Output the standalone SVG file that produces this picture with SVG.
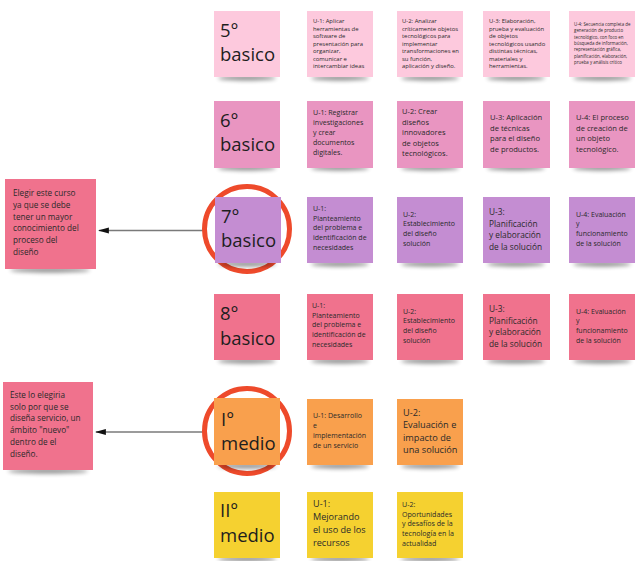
<svg xmlns="http://www.w3.org/2000/svg" width="637" height="561" viewBox="0 0 637 561">
<style>
.bg{fill:#ffffff}
.sh{fill:#000;opacity:.45;filter:url(#blur)}
.n5{fill:#fdc9dd}
.n6{fill:#e995c1}
.n7{fill:#c48dd2}
.n8{fill:#f0728d}
.nI{fill:#f9a04d}
.nII{fill:#f5d130}
.lbl{font-family:"Open Sans","Noto Sans",sans-serif;font-size:18.5px;fill:#1e1e1e}
.t{font-family:"Open Sans","Noto Sans",sans-serif;fill:#2a2a2a}
.ring{fill:none;stroke:#ee4a2b;stroke-width:5}
.conn{stroke:#7a7a7a;stroke-width:1.5;fill:none}
</style>
<defs>
<filter id="blur" x="-20%" y="-200%" width="140%" height="500%"><feGaussianBlur stdDeviation="2"/></filter>
<marker id="ah" viewBox="0 0 10 10" refX="9" refY="5" markerWidth="11" markerHeight="11" markerUnits="userSpaceOnUse" orient="auto"><path d="M0,2.2 L10,5 L0,7.8 Z" fill="#111"/></marker>
</defs>
<rect class="bg" x="0" y="0" width="637" height="561"/>

<g id="connectors">
<line class="conn" x1="203" y1="230.5" x2="99" y2="230.5" marker-end="url(#ah)"/>
<line class="conn" x1="203" y1="432" x2="96" y2="432" marker-end="url(#ah)"/>
</g>

<g id="highlight-7">
<circle class="ring" cx="247" cy="229" r="42.5"/>
</g>
<g id="highlight-I">
<circle class="ring" cx="247" cy="431" r="42.5"/>
</g>

<!-- Row 1 -->
<g id="n-5basico"><ellipse class="sh" cx="247" cy="78" rx="29" ry="2.5"/><rect class="n5" x="214" y="11" width="66" height="66"/><text class="lbl" x="220" y="37"><tspan x="220">5°</tspan><tspan x="220" dy="24">basico</tspan></text></g>
<g id="n-5-u1"><ellipse class="sh" cx="340" cy="78" rx="29" ry="2.5"/><rect class="n5" x="307" y="11" width="66" height="66"/><text class="t" font-size="5.9" x="313" y="23"><tspan x="313">U-1: Aplicar</tspan><tspan x="313" dy="7.5">herramientas de</tspan><tspan x="313" dy="7.5">software de</tspan><tspan x="313" dy="7.5">presentación para</tspan><tspan x="313" dy="7.5">organizar,</tspan><tspan x="313" dy="7.5">comunicar e</tspan><tspan x="313" dy="7.5">intercambiar ideas</tspan></text></g>
<g id="n-5-u2"><ellipse class="sh" cx="430" cy="78" rx="29" ry="2.5"/><rect class="n5" x="397" y="11" width="66" height="66"/><text class="t" font-size="5.9" x="402" y="23"><tspan x="402">U-2: Analizar</tspan><tspan x="402" dy="7.5">críticamente objetos</tspan><tspan x="402" dy="7.5">tecnológicos para</tspan><tspan x="402" dy="7.5">implementar</tspan><tspan x="402" dy="7.5">transformaciones en</tspan><tspan x="402" dy="7.5">su función,</tspan><tspan x="402" dy="7.5">aplicación y diseño.</tspan></text></g>
<g id="n-5-u3"><ellipse class="sh" cx="516" cy="78" rx="29" ry="2.5"/><rect class="n5" x="483" y="11" width="67" height="66"/><text class="t" font-size="5.9" x="489" y="23"><tspan x="489">U-3: Elaboración,</tspan><tspan x="489" dy="7.5">prueba y evaluación</tspan><tspan x="489" dy="7.5">de objetos</tspan><tspan x="489" dy="7.5">tecnológicos usando</tspan><tspan x="489" dy="7.5">distintas técnicas,</tspan><tspan x="489" dy="7.5">materiales y</tspan><tspan x="489" dy="7.5">herramientas.</tspan></text></g>
<g id="n-5-u4"><ellipse class="sh" cx="602" cy="78" rx="29" ry="2.5"/><rect class="n5" x="569" y="11" width="66" height="66"/><text class="t" font-size="4.4" x="574" y="26"><tspan x="574">U-4: Secuencia completa de</tspan><tspan x="574" dy="6.3">generación de producto</tspan><tspan x="574" dy="6.3">tecnológico, con foco en</tspan><tspan x="574" dy="6.3">búsqueda de información,</tspan><tspan x="574" dy="6.3">representación gráfica,</tspan><tspan x="574" dy="6.3">planificación, elaboración,</tspan><tspan x="574" dy="6.3">prueba y análisis crítico</tspan></text></g>

<!-- Row 2 -->
<g id="n-6basico"><ellipse class="sh" cx="247" cy="168" rx="29" ry="2.5"/><rect class="n6" x="214" y="101" width="66" height="67"/><text class="lbl" x="220" y="127"><tspan x="220">6°</tspan><tspan x="220" dy="24">basico</tspan></text></g>
<g id="n-6-u1"><ellipse class="sh" cx="340" cy="168" rx="29" ry="2.5"/><rect class="n6" x="307" y="101" width="66" height="67"/><text class="t" font-size="7.1" x="313" y="115"><tspan x="313">U-1: Registrar</tspan><tspan x="313" dy="10">investigaciones</tspan><tspan x="313" dy="10">y crear</tspan><tspan x="313" dy="10">documentos</tspan><tspan x="313" dy="10">digitales.</tspan></text></g>
<g id="n-6-u2"><ellipse class="sh" cx="430" cy="168" rx="29" ry="2.5"/><rect class="n6" x="397" y="101" width="66" height="67"/><text class="t" font-size="7.5" x="402" y="114"><tspan x="402">U-2: Crear</tspan><tspan x="402" dy="10.5">diseños</tspan><tspan x="402" dy="10.5">innovadores</tspan><tspan x="402" dy="10.5">de objetos</tspan><tspan x="402" dy="10.5">tecnológicos.</tspan></text></g>
<g id="n-6-u3"><ellipse class="sh" cx="516" cy="168" rx="29" ry="2.5"/><rect class="n6" x="483" y="101" width="67" height="67"/><text class="t" font-size="7.6" x="490" y="120"><tspan x="490">U-3: Aplicación</tspan><tspan x="490" dy="10.5">de técnicas</tspan><tspan x="490" dy="10.5">para el diseño</tspan><tspan x="490" dy="10.5">de productos.</tspan></text></g>
<g id="n-6-u4"><ellipse class="sh" cx="602" cy="168" rx="29" ry="2.5"/><rect class="n6" x="569" y="101" width="66" height="67"/><text class="t" font-size="7.6" x="576" y="120"><tspan x="576">U-4: El proceso</tspan><tspan x="576" dy="10.5">de creación de</tspan><tspan x="576" dy="10.5">un objeto</tspan><tspan x="576" dy="10.5">tecnológico.</tspan></text></g>

<!-- Row 3 -->
<g id="n-7basico"><ellipse class="sh" cx="247" cy="264" rx="29" ry="2.5"/><rect class="n7" x="215" y="197" width="66" height="66"/><text class="lbl" x="221" y="223"><tspan x="221">7°</tspan><tspan x="221" dy="24">basico</tspan></text></g>
<g id="n-7-u1"><ellipse class="sh" cx="340" cy="264" rx="29" ry="2.5"/><rect class="n7" x="307" y="197" width="66" height="66"/><text class="t" font-size="7" x="313" y="211"><tspan x="313">U-1:</tspan><tspan x="313" dy="9.7">Planteamiento</tspan><tspan x="313" dy="9.7">del problema e</tspan><tspan x="313" dy="9.7">identificación de</tspan><tspan x="313" dy="9.7">necesidades</tspan></text></g>
<g id="n-7-u2"><ellipse class="sh" cx="430" cy="264" rx="29" ry="2.5"/><rect class="n7" x="397" y="197" width="66" height="66"/><text class="t" font-size="7" x="403" y="216.5"><tspan x="403">U-2:</tspan><tspan x="403" dy="9.7">Establecimiento</tspan><tspan x="403" dy="9.7">del diseño</tspan><tspan x="403" dy="9.7">solución</tspan></text></g>
<g id="n-7-u3"><ellipse class="sh" cx="516" cy="264" rx="29" ry="2.5"/><rect class="n7" x="483" y="197" width="67" height="66"/><text class="t" font-size="8.3" x="489" y="215"><tspan x="489">U-3:</tspan><tspan x="489" dy="11.5">Planificación</tspan><tspan x="489" dy="11.5">y elaboración</tspan><tspan x="489" dy="11.5">de la solución</tspan></text></g>
<g id="n-7-u4"><ellipse class="sh" cx="602" cy="264" rx="29" ry="2.5"/><rect class="n7" x="569" y="197" width="66" height="66"/><text class="t" font-size="7" x="576" y="216.5"><tspan x="576">U-4: Evaluación</tspan><tspan x="576" dy="9.7">y</tspan><tspan x="576" dy="9.7">funcionamiento</tspan><tspan x="576" dy="9.7">de la solución</tspan></text></g>

<!-- Row 4 -->
<g id="n-8basico"><ellipse class="sh" cx="247" cy="361" rx="29" ry="2.5"/><rect class="n8" x="214" y="294" width="66" height="66"/><text class="lbl" x="220" y="320"><tspan x="220">8°</tspan><tspan x="220" dy="24.5">basico</tspan></text></g>
<g id="n-8-u1"><ellipse class="sh" cx="340" cy="361" rx="29" ry="2.5"/><rect class="n8" x="307" y="294" width="66" height="66"/><text class="t" font-size="7" x="312" y="308"><tspan x="312">U-1:</tspan><tspan x="312" dy="9.7">Planteamiento</tspan><tspan x="312" dy="9.7">del problema e</tspan><tspan x="312" dy="9.7">identificación de</tspan><tspan x="312" dy="9.7">necesidades</tspan></text></g>
<g id="n-8-u2"><ellipse class="sh" cx="430" cy="361" rx="29" ry="2.5"/><rect class="n8" x="397" y="294" width="66" height="66"/><text class="t" font-size="7" x="403" y="313.5"><tspan x="403">U-2:</tspan><tspan x="403" dy="9.7">Establecimiento</tspan><tspan x="403" dy="9.7">del diseño</tspan><tspan x="403" dy="9.7">solución</tspan></text></g>
<g id="n-8-u3"><ellipse class="sh" cx="516" cy="361" rx="29" ry="2.5"/><rect class="n8" x="483" y="294" width="67" height="66"/><text class="t" font-size="8.3" x="489" y="312"><tspan x="489">U-3:</tspan><tspan x="489" dy="11.5">Planificación</tspan><tspan x="489" dy="11.5">y elaboración</tspan><tspan x="489" dy="11.5">de la solución</tspan></text></g>
<g id="n-8-u4"><ellipse class="sh" cx="602" cy="361" rx="29" ry="2.5"/><rect class="n8" x="569" y="294" width="66" height="66"/><text class="t" font-size="7" x="576" y="313.5"><tspan x="576">U-4: Evaluación</tspan><tspan x="576" dy="9.7">y</tspan><tspan x="576" dy="9.7">funcionamiento</tspan><tspan x="576" dy="9.7">de la solución</tspan></text></g>

<!-- Row 5 -->
<g id="n-Imedio"><ellipse class="sh" cx="247" cy="466" rx="29" ry="2.5"/><rect class="nI" x="214" y="398" width="66" height="67"/><text class="lbl" x="221" y="426"><tspan x="221">I°</tspan><tspan x="221" dy="24">medio</tspan></text></g>
<g id="n-I-u1"><ellipse class="sh" cx="340" cy="466" rx="29" ry="2.5"/><rect class="nI" x="307" y="399" width="66" height="66"/><text class="t" font-size="7" x="313" y="417.5"><tspan x="313">U-1: Desarrollo</tspan><tspan x="313" dy="10">e</tspan><tspan x="313" dy="10">implementación</tspan><tspan x="313" dy="10">de un servicio</tspan></text></g>
<g id="n-I-u2"><ellipse class="sh" cx="430" cy="466" rx="29" ry="2.5"/><rect class="nI" x="397" y="399" width="66" height="66"/><text class="t" font-size="9.2" x="403" y="415.5"><tspan x="403">U-2:</tspan><tspan x="403" dy="12.5">Evaluación e</tspan><tspan x="403" dy="12.5">impacto de</tspan><tspan x="403" dy="12.5">una solución</tspan></text></g>

<!-- Row 6 -->
<g id="n-IImedio"><ellipse class="sh" cx="247" cy="559" rx="29" ry="2.5"/><rect class="nII" x="214" y="492" width="66" height="66"/><text class="lbl" x="220" y="517"><tspan x="220">II°</tspan><tspan x="220" dy="25">medio</tspan></text></g>
<g id="n-II-u1"><ellipse class="sh" cx="340" cy="559" rx="29" ry="2.5"/><rect class="nII" x="307" y="492" width="66" height="66"/><text class="t" font-size="9.1" x="313" y="507"><tspan x="313">U-1:</tspan><tspan x="313" dy="13">Mejorando</tspan><tspan x="313" dy="13">el uso de los</tspan><tspan x="313" dy="13">recursos</tspan></text></g>
<g id="n-II-u2"><ellipse class="sh" cx="430" cy="559" rx="29" ry="2.5"/><rect class="nII" x="397" y="492" width="66" height="66"/><text class="t" font-size="7.1" x="402" y="507"><tspan x="402">U-2:</tspan><tspan x="402" dy="9.7">Oportunidades</tspan><tspan x="402" dy="9.7">y desafíos de la</tspan><tspan x="402" dy="9.7">tecnología en la</tspan><tspan x="402" dy="9.7">actualidad</tspan></text></g>

<!-- Comment notes -->
<g id="c-7basico"><ellipse class="sh" cx="50" cy="270" rx="40" ry="2.5"/><rect class="n8" x="5" y="179" width="91" height="90"/><text class="t" font-size="8.2" x="13" y="196"><tspan x="13">Elegir este curso</tspan><tspan x="13" dy="11.8">ya que se debe</tspan><tspan x="13" dy="11.8">tener un mayor</tspan><tspan x="13" dy="11.8">conocimiento del</tspan><tspan x="13" dy="11.8">proceso del</tspan><tspan x="13" dy="11.8">diseño</tspan></text></g>
<g id="c-Imedio"><ellipse class="sh" cx="48" cy="471" rx="40" ry="2.5"/><rect class="n8" x="3" y="382" width="90" height="88"/><text class="t" font-size="8.2" x="10" y="398"><tspan x="10">Este lo elegiria</tspan><tspan x="10" dy="11.7">solo por que se</tspan><tspan x="10" dy="11.7">diseña servicio, un</tspan><tspan x="10" dy="11.7">ámbito "nuevo"</tspan><tspan x="10" dy="11.7">dentro de el</tspan><tspan x="10" dy="11.7">diseño.</tspan></text></g>
</svg>
